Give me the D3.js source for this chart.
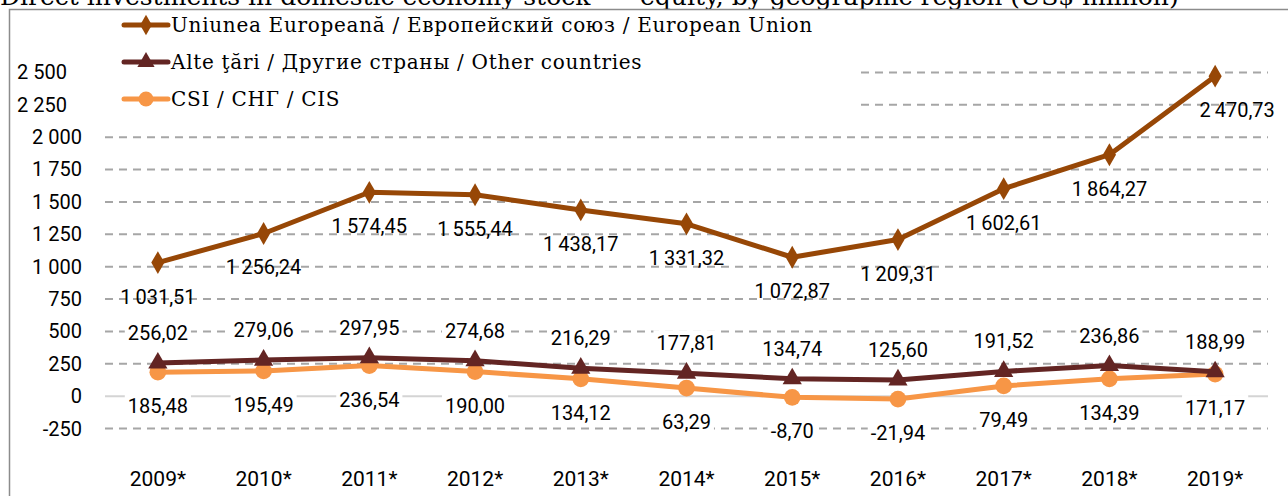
<!DOCTYPE html>
<html>
<head>
<meta charset="utf-8">
<script src="https://cdn.jsdelivr.net/npm/d3@7"></script>
<style>
  body { margin: 0; background: #fff; }
  svg { display: block; }
</style>
</head>
<body>
<svg id="chart" width="1288" height="496"></svg>
<script>
// chart data
var years = ["2009*", "2010*", "2011*", "2012*", "2013*", "2014*", "2015*", "2016*", "2017*", "2018*", "2019*"];
var euValues = [1031.51, 1256.24, 1574.45, 1555.44, 1438.17, 1331.32, 1072.87, 1209.31, 1602.61, 1864.27, 2470.73];
var otherValues = [256.02, 279.06, 297.95, 274.68, 216.29, 177.81, 134.74, 125.60, 191.52, 236.86, 188.99];
var cisValues = [185.48, 195.49, 236.54, 190.00, 134.12, 63.29, -8.70, -21.94, 79.49, 134.39, 171.17];
var yTicks = [-250, 0, 250, 500, 750, 1000, 1250, 1500, 1750, 2000, 2250, 2500];
var seriesNames = ["Uniunea Europeană / Европейский союз / European Union",
                   "Alte ţări / Другие страны / Other countries",
                   "CSI / СНГ / CIS"];

var colors = ["#974706", "#632523", "#f79646"];
var sansFont = "Roboto, 'Liberation Sans', sans-serif";
var serifFont = "'DejaVu Serif', 'Liberation Serif', serif";

var svg = d3.select("#chart");

// number format like "1 031,51" (thin space for thousands)
function fmt(v) {
    var parts = v.toFixed(2).split(".");
    var neg = parts[0][0] === "-";
    var intPart = neg ? parts[0].slice(1) : parts[0];
    intPart = intPart.replace(/\B(?=(\d{3})+(?!\d))/g, "\u2009");
    return (neg ? "-" : "") + intPart + "," + parts[1];
}
function fmtTick(v) {
    var s = String(Math.abs(v)).replace(/\B(?=(\d{3})+(?!\d))/g, " ");
    return (v < 0 ? "-" : "") + s;
}

// cut-off title above the frame
svg.append("text")
    .attr("x", 0).attr("y", 5)
    .style("font-family", serifFont).style("font-size", "25px")
    .text("Direct investments in domestic economy stock");
svg.append("text")
    .attr("x", 640).attr("y", 5)
    .style("font-family", serifFont).style("font-size", "25px")
    .text("equity, by geographic region (US$ million)");

// frame
svg.append("rect")
    .attr("x", 9.5).attr("y", 9.5)
    .attr("width", 1300).attr("height", 500)
    .attr("fill", "#fff")
    .attr("stroke", "#8c8c8c").attr("stroke-width", 1.5);

var x = d3.scaleBand()
    .domain(years)
    .range([105, 1268])
    .padding(0);

var y = d3.scaleLinear()
    .domain([-500, 2750])
    .range([461, 40]);

function cx(i) { return x(years[i]) + x.bandwidth() / 2; }

// gridlines
svg.append("g").selectAll("line")
    .data(yTicks)
    .enter().append("line")
    .attr("x1", 105).attr("x2", 1268)
    .attr("y1", function(d) { return y(d); })
    .attr("y2", function(d) { return y(d); })
    .attr("stroke", function(d) { return d === 0 ? "#d4d4d4" : "#a6a6a6"; })
    .attr("stroke-width", 2)
    .attr("stroke-dasharray", function(d) { return d === 0 ? null : "8,6"; });

// y axis labels
var yAxis = svg.append("g")
    .attr("transform", "translate(92,0)")
    .call(d3.axisLeft(y).tickValues(yTicks).tickSize(0).tickPadding(10).tickFormat(fmtTick));
yAxis.select(".domain").remove();
yAxis.selectAll("text")
    .style("font-family", sansFont).style("font-size", "20px").attr("fill", "#000")
    .attr("dx", function(d) { return d >= 2250 ? -15 : 0; });

// x axis labels
var xAxis = svg.append("g")
    .attr("transform", "translate(0,461)")
    .call(d3.axisBottom(x).tickSize(0).tickPadding(10));
xAxis.select(".domain").remove();
xAxis.selectAll("text")
    .style("font-family", sansFont).style("font-size", "21px").attr("fill", "#000");

// legend background
svg.append("rect")
    .attr("x", 105).attr("y", 11).attr("width", 755).attr("height", 101)
    .attr("fill", "#fff");

// EU labels (no background, drawn under lines)
var euLabels = svg.append("g");
euValues.forEach(function(v, i) {
    euLabels.append("text")
        .attr("x", cx(i) + (i === 10 ? 22 : 0))
        .attr("y", y(v) + 34)
        .attr("dy", "0.35em")
        .attr("text-anchor", "middle")
        .style("font-family", sansFont).style("font-size", "20px")
        .text(fmt(v));
});

// labels with white box
function boxedLabels(values, offset) {
    var g = svg.append("g");
    values.forEach(function(v, i) {
        var t = g.append("text")
            .attr("x", cx(i))
            .attr("y", y(v) + offset)
            .attr("dy", "0.35em")
            .attr("text-anchor", "middle")
            .style("font-family", sansFont).style("font-size", "20px")
            .text(fmt(v));
        var b = t.node().getBBox();
        g.insert("rect", "text")
            .attr("x", b.x - 3).attr("y", b.y - 1)
            .attr("width", b.width + 6).attr("height", b.height + 2)
            .attr("fill", "#fff");
    });
}
boxedLabels(otherValues, -30);
boxedLabels(cisValues, 34);

var line = d3.line()
    .x(function(d, i) { return cx(i); })
    .y(function(d) { return y(d); });

var allSeries = [euValues, otherValues, cisValues];
var symbols = [d3.symbolDiamond, d3.symbolTriangle, d3.symbolCircle];
var symSizes = [150, 160, 220];

// draw in order: CIS, other, EU
[2, 1, 0].forEach(function(s) {
    svg.append("path")
        .datum(allSeries[s])
        .attr("fill", "none")
        .attr("stroke", colors[s])
        .attr("stroke-width", 5)
        .attr("stroke-linejoin", "round")
        .attr("d", line);
    svg.append("g").selectAll("path")
        .data(allSeries[s])
        .enter().append("path")
        .attr("transform", function(d, i) { return "translate(" + cx(i) + "," + y(d) + ")"; })
        .attr("d", d3.symbol().type(symbols[s]).size(symSizes[s]))
        .attr("fill", colors[s]);
});

// legend
var legendY = [25, 62, 99];
seriesNames.forEach(function(name, s) {
    var g = svg.append("g").attr("transform", "translate(0," + legendY[s] + ")");
    g.append("line")
        .attr("x1", 124).attr("x2", 168)
        .attr("stroke", colors[s]).attr("stroke-width", 5).attr("stroke-linecap", "round");
    g.append("path")
        .attr("transform", "translate(146,0)")
        .attr("d", d3.symbol().type(symbols[s]).size(symSizes[s] * 0.8))
        .attr("fill", colors[s]);
    g.append("text")
        .attr("x", 171).attr("dy", "0.35em")
        .style("font-family", serifFont).style("font-size", "20px")
        .style("letter-spacing", "0.7px")
        .text(name);
});
</script>
</body>
</html>
